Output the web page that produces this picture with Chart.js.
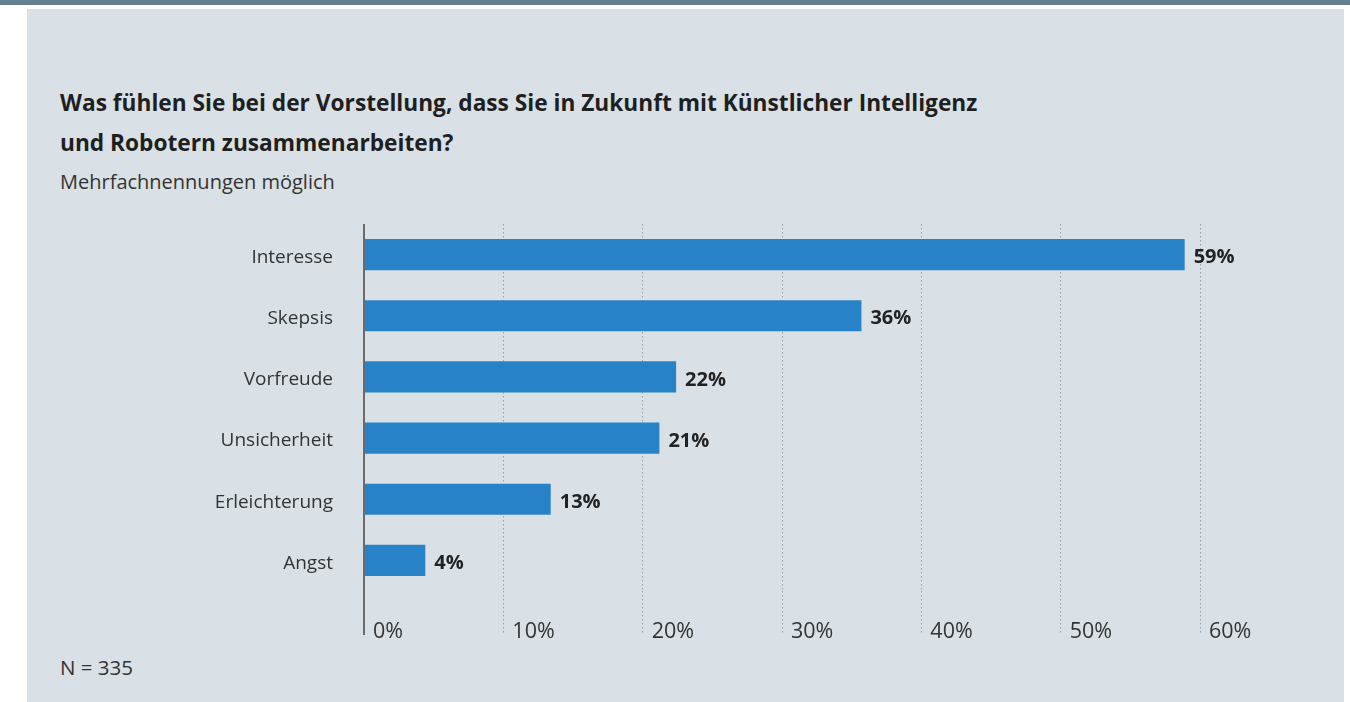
<!DOCTYPE html>
<html>
<head>
<meta charset="utf-8">
<script src="https://cdn.jsdelivr.net/npm/chart.js@4/dist/chart.umd.min.js"></script>
<style>
  html, body { margin: 0; padding: 0; background: #ffffff; }
  body { width: 1350px; height: 702px; position: relative; overflow: hidden; font-family: "Open Sans", sans-serif; }
  #topbar { position: absolute; left: 0; top: 0; width: 1350px; height: 5px; background: #64808f; }
  #panel { position: absolute; left: 27px; top: 9px; width: 1317px; height: 693px; background: #d9e1e6; }
  .t { position: absolute; left: 60px; white-space: nowrap; }
  #title { top: 83px; font-size: 22.7px; line-height: 40px; font-weight: 700; color: #1f1f1f; }
  #subtitle { top: 168px; font-size: 20px; color: #333333; }
  #note { top: 653px; font-size: 20.5px; color: #333333; }
  #wrap { position: absolute; left: 0; top: 0; width: 1350px; height: 702px; }
</style>
</head>
<body>
<div id="topbar"></div>
<div id="panel"></div>
<div class="t" id="title">Was fühlen Sie bei der Vorstellung, dass Sie in Zukunft mit Künstlicher Intelligenz<br>und Robotern zusammenarbeiten?</div>
<div class="t" id="subtitle">Mehrfachnennungen möglich</div>
<div class="t" id="note">N = 335</div>
<div id="wrap"><canvas id="c" width="1350" height="702"></canvas></div>
<script>
const categories = ["Interesse", "Skepsis", "Vorfreude", "Unsicherheit", "Erleichterung", "Angst"];
const values = [58.9, 35.7, 22.4, 21.2, 13.4, 4.4];
const valueLabels = ["59%", "36%", "22%", "21%", "13%", "4%"];
const tickValues = [0, 10, 20, 30, 40, 50, 60];

const barLabels = {
  id: 'barLabels',
  afterDatasetsDraw(chart) {
    const ctx = chart.ctx;
    const meta = chart.getDatasetMeta(0);
    ctx.save();
    ctx.font = '700 20px "Open Sans"';
    ctx.fillStyle = '#222222';
    ctx.textAlign = 'left';
    ctx.textBaseline = 'middle';
    meta.data.forEach((bar, i) => {
      ctx.fillText(valueLabels[i], bar.x + 9, bar.y + 3);
    });
    ctx.restore();
  }
};

new Chart(document.getElementById('c'), {
  type: 'bar',
  data: {
    labels: categories,
    datasets: [{
      data: values,
      backgroundColor: '#2882c8',
      borderWidth: 0,
      categoryPercentage: 1,
      barPercentage: 0.51
    }]
  },
  options: {
    indexAxis: 'y',
    responsive: false,
    animation: false,
    events: [],
    layout: { padding: { left: 0, right: 150, top: 224, bottom: 0 } },
    plugins: { legend: { display: false }, tooltip: { enabled: false } },
    scales: {
      x: {
        type: 'linear',
        position: 'bottom',
        min: 0,
        max: 60,
        afterBuildTicks(scale) { scale.ticks = tickValues.map(v => ({ value: v })); },
        afterFit(scale) { scale.height = 111; },
        grid: {
          display: true,
          drawOnChartArea: true,
          drawTicks: true,
          tickLength: 44,
          color: (c) => c.index === 0 ? '#6b6b6b' : '#9aa1a6',
          lineWidth: (c) => c.index === 0 ? 2 : 1,
          tickColor: (c) => c.index === 0 ? '#6b6b6b' : '#9aa1a6',
          tickWidth: (c) => c.index === 0 ? 2 : 1,
          tickBorderDash: (c) => c.index === 0 ? [] : [1.5, 2.5]
        },
        border: {
          display: false,
          dash: (c) => c.index === 0 ? [] : [1.5, 2.5]
        },
        ticks: {
          align: 'start',
          labelOffset: 9,
          padding: -16,
          color: '#333333',
          font: { family: '"Open Sans"', size: 21.5 },
          callback: (v) => v + '%'
        }
      },
      y: {
        type: 'category',
        position: 'left',
        afterFit(scale) { scale.width = 364; },
        grid: { display: false },
        border: { display: false },
        ticks: {
          padding: 23,
          labelOffset: 3,
          color: '#333333',
          font: { family: '"Open Sans"', size: 19 }
        }
      }
    }
  },
  plugins: [barLabels]
});
</script>
</body>
</html>
